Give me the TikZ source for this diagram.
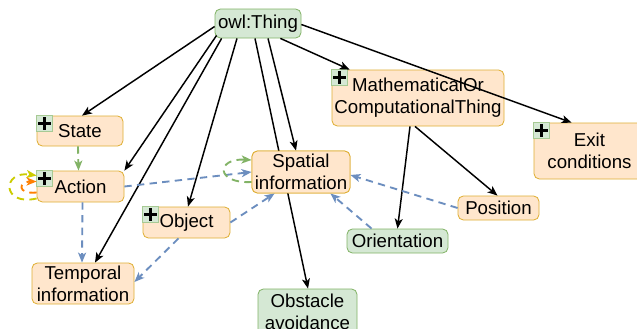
\documentclass[tikz,border=0pt]{standalone}
\usepackage{fontspec}
\setmainfont{Liberation Sans}
\usetikzlibrary{arrows.meta,calc}
\definecolor{ofill}{HTML}{FFE6CC}
\definecolor{ostroke}{HTML}{D79B00}
\definecolor{gfill}{HTML}{D5E8D4}
\definecolor{gstroke}{HTML}{82B366}
\definecolor{bdash}{HTML}{6C8EBF}
\definecolor{ydash}{HTML}{CCCC00}
\definecolor{odash}{HTML}{FF8000}
\tikzset{
  box/.style={draw, rounded corners=4pt, line width=0.6pt, align=center, inner sep=0pt,
    font=\fontsize{14}{16.5}\selectfont},
  obox/.style={box, fill=ofill, draw=ostroke!80!white},
  gbox/.style={box, fill=gfill, draw=gstroke},
  arr/.style={line width=1.1pt, -{Stealth[length=7.5pt,width=6pt,inset=2pt]}},
  darr/.style={line width=1.4pt, dash pattern=on 5.5pt off 4pt, -{Stealth[length=7.5pt,width=6pt,inset=2pt]}},
  plusicon/.pic={
    \draw[fill=gfill, draw=gstroke!70!white, line width=0.4pt] (0,0) rectangle (16,16);
    \draw[line width=1.8pt] (8,1.5) -- (8,14.5) (1.5,8) -- (14.5,8);
  }
}
\begin{document}
\begin{tikzpicture}[x=0.75pt,y=-0.75pt]
\clip (0,0) rectangle (637,329);
\fill[white] (0,0) rectangle (637,329);
% nodes
\node[gbox, minimum width=64.5pt, minimum height=21.75pt] (thing) at (258,23.5) {owl:Thing};
\node[obox, minimum width=64.5pt, minimum height=22.5pt] (state) at (80,131) {State};
\node[obox, minimum width=65.25pt, minimum height=23.25pt] (action) at (80.5,186.5) {Action};
\node[obox, minimum width=65.25pt, minimum height=23.25pt] (object) at (186.5,222.5) {Object};
\node[obox, minimum width=73.5pt, minimum height=31.5pt] (spatial) at (301,172) {Spatial\\information};
\node[obox, minimum width=129pt, minimum height=42pt] (math) at (418,98) {MathematicalOr\\ComputationalThing};
\node[obox, minimum width=83.25pt, minimum height=42pt] (exit) at (589.5,151) {Exit\\conditions};
\node[obox, minimum width=60.75pt, minimum height=18pt] (position) at (498.5,208) {Position};
\node[gbox, minimum width=75.75pt, minimum height=18pt] (orient) at (397.5,241) {Orientation};
\node[obox, minimum width=76.5pt, minimum height=30.75pt] (temporal) at (83,283.5) {Temporal\\information};
\node[gbox, minimum width=74.25pt, minimum height=34.5pt] (obstacle) at (307.5,312) {Obstacle\\avoidance};
% plus icons
\pic at (state.north west) {plusicon};
\pic at (action.north west) {plusicon};
\pic at (object.north west) {plusicon};
\pic at (math.north west) {plusicon};
\pic at (exit.north west) {plusicon};
% black edges
\begin{scope}[on background layer/.style={}]
\draw[arr] ($(thing.west)+(0,3)$) -- ($(state.north)+(2,0)$);
\draw[arr] ($(thing.south west)+(2,-3)$) -- (action.north east);
\draw[arr] ($(thing.south west)+(7,0)$) -- ($(temporal.north)+(12,0)$);
\draw[arr] ($(thing.south)+(-21,0)$) -- ($(object.north)+(1.5,0)$);
\draw[arr] ($(thing.south)+(10,0)$) -- ($(spatial.north)+(-5,0)$);
\draw[arr] ($(thing.south east)+(-21,0)$) -- ($(math.north west)+(18,0)$);
\draw[arr] ($(thing.east)+(0,1)$) -- ($(exit.north west)+(38,0)$);
\draw[arr] ($(math.south)+(-8,0)$) -- (orient.north);
\draw[arr] ($(math.south)+(-3,0)$) -- ($(position.north)+(-1,0)$);
\end{scope}
% dashed edges
\draw[darr, gstroke] ($(state.south)+(-2,0)$) -- ($(action.north)+(-2,0)$);
\draw[darr, bdash] (action.east) -- (spatial.west);
\draw[darr, bdash] ($(action.south)+(2,0)$) -- ($(temporal.north)+(-1,0)$);
\draw[darr, bdash] ($(object.south)+(-8,0)$) -- ($(temporal.east)+(0,-1.5)$);
\draw[darr, bdash] (object.east) -- ($(spatial.south west)+(23,0)$);
\draw[darr, bdash] (position.west) -- ($(spatial.east)+(0,3)$);
\draw[darr, bdash] ($(orient.north west)+(25,0)$) -- ($(spatial.south east)+(-20,0)$);
\draw[darr, gstroke] ($(spatial.west)+(0,10)$) .. controls +(-36,2) and +(-36,-2) .. ($(spatial.west)+(0,-12)$);
\draw[darr, ydash] ($(action.west)+(0,12)$) .. controls +(-35,8) and +(-35,-5) .. ($(action.west)+(0,-11)$);
\draw[darr, odash] ($(action.west)+(0,6)$) .. controls +(-20,2) and +(-18,0) .. ($(action.west)+(0,-5)$);
% black edge to obstacle passes behind spatial: draw then redraw spatial
\begin{scope}
\draw[arr] ($(thing.south)+(-3,0)$) -- ($(obstacle.north)+(0.5,0)$);
\node[obox, minimum width=73.5pt, minimum height=31.5pt] (spatial2) at (301,172) {Spatial\\information};
\end{scope}
\end{tikzpicture}
\end{document}
